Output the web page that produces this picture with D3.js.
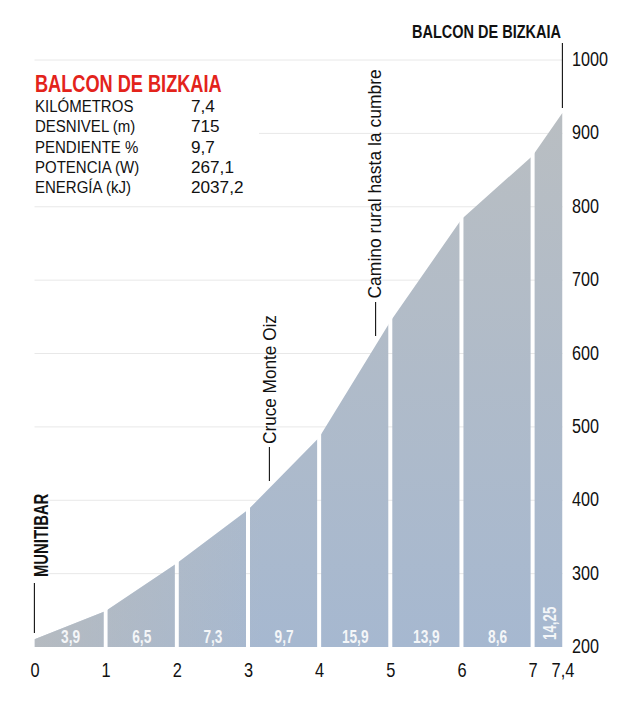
<!DOCTYPE html>
<html>
<head>
<meta charset="utf-8">
<script src="https://cdn.jsdelivr.net/npm/d3@7"></script>
<style>
  body { margin: 0; background: #fff; }
  text { font-family: "Liberation Sans", sans-serif; fill: #111; }
</style>
</head>
<body>
<div id="chart"></div>
<script>
// datos del perfil
const kms = [0, 1, 2, 3, 4, 5, 6, 7, 7.42]
const elevations = [210.5, 249, 314, 387, 485.5, 643.6, 783, 869.6, 928]
const gradients = ["3,9", "6,5", "7,3", "9,7", "15,9", "13,9", "8,6", "14,25"]
const xTicks = [0, 1, 2, 3, 4, 5, 6, 7, 7.42]
const xTickLabels = ["0", "1", "2", "3", "4", "5", "6", "7", "7,4"]
const yTicks = [200, 300, 400, 500, 600, 700, 800, 900, 1000]
const infoLabels = ["KILÓMETROS", "DESNIVEL (m)", "PENDIENTE %", "POTENCIA (W)", "ENERGÍA (kJ)"]
const infoValues = ["7,4", "715", "9,7", "267,1", "2037,2"]

const width = 627
const height = 701

const svg = d3.select("div#chart").append("svg").attr("width", width).attr("height", height)

const x = d3.scaleLinear().domain([0, 7.42]).range([34.5, 562.5])
const y = d3.scaleLinear().domain([200, 1000]).range([647, 60])

// la fuente original es condensada: se estrecha con scale
const place = (px, py, sx, rot = 0) => `translate(${px},${py}) rotate(${rot}) scale(${sx},1)`

const defs = svg.append("defs")
const vGrad = defs.append("linearGradient").attr("id", "vGrad")
    .attr("gradientUnits", "userSpaceOnUse")
    .attr("x1", 0).attr("y1", y(928)).attr("x2", 0).attr("y2", y(200))
vGrad.append("stop").attr("offset", 0).attr("stop-color", "#b9bec2")
vGrad.append("stop").attr("offset", 1).attr("stop-color", "#a6b8d0")

const hGrad = defs.append("linearGradient").attr("id", "hGrad")
    .attr("gradientUnits", "userSpaceOnUse")
    .attr("x1", x(0)).attr("y1", 0).attr("x2", x(3.2)).attr("y2", 0)
hGrad.append("stop").attr("offset", 0).attr("stop-color", "#bdbcb8").attr("stop-opacity", 0.65)
hGrad.append("stop").attr("offset", 1).attr("stop-color", "#bdbcb8").attr("stop-opacity", 0)

// huecos blancos entre kilómetros
defs.append("clipPath").attr("id", "segments")
    .selectAll("rect").data(kms.slice(0, -1)).join("rect")
    .attr("x", (d, i) => x(d) + (i === 0 ? 0 : 2))
    .attr("width", (d, i) => x(kms[i + 1]) - x(d) - (i === 0 ? 2 : i === kms.length - 2 ? 2 : 4))
    .attr("y", 0).attr("height", height)

// rejilla
svg.append("g").selectAll("line").data(yTicks.slice(1)).join("line")
    .attr("x1", d => d === 900 ? 259 : x(0)).attr("x2", x(7.42))
    .attr("y1", d => y(d)).attr("y2", d => y(d))
    .attr("stroke", "#e8e8e8").attr("stroke-width", 1)

// perfil
const area = d3.area().x((d, i) => x(kms[i])).y0(y(200)).y1(d => y(d))
const profile = svg.append("g").attr("clip-path", "url(#segments)")
profile.append("path").datum(elevations).attr("d", area).attr("fill", "url(#vGrad)")
profile.append("path").datum(elevations).attr("d", area).attr("fill", "url(#hGrad)")

// pendientes
svg.append("g").selectAll("text").data(gradients.slice(0, -1)).join("text")
    .attr("transform", (d, i) => place(x(kms[i] + 0.5) + 0.5, 643.3, 0.74))
    .attr("text-anchor", "middle")
    .style("fill", "#f4f6f8").style("font-weight", "bold").style("font-size", "18.5px")
    .text(d => d)
svg.append("text")
    .attr("transform", place(556, 640, 0.72, -90))
    .style("fill", "#f4f6f8").style("font-weight", "bold").style("font-size", "18.5px")
    .text(gradients[7])

// ejes
svg.append("g").selectAll("text").data(xTicks).join("text")
    .attr("transform", d => place(x(d) + 0.5, 676.7, 0.82))
    .attr("text-anchor", "middle")
    .style("font-size", "20px")
    .text((d, i) => xTickLabels[i])

svg.append("g").selectAll("text").data(yTicks).join("text")
    .attr("transform", d => place(572, y(d) + 6, 0.81))
    .style("font-size", "20px")
    .text(d => d)

// bloque de datos
svg.append("text").attr("transform", place(35, 92, 0.78))
    .style("fill", "#e3231b").style("font-weight", "bold").style("font-size", "23.3px")
    .text("BALCON DE BIZKAIA")

svg.append("g").selectAll("text").data(infoLabels).join("text")
    .attr("transform", (d, i) => place(35, 112 + i * 20.35, 0.91))
    .style("font-size", "16.5px")
    .text(d => d)
svg.append("g").selectAll("text").data(infoValues).join("text")
    .attr("transform", (d, i) => place(191, 112 + i * 20.35, 1.04))
    .style("font-size", "16.5px")
    .text(d => d)

// anotaciones
const leader = (px, y1, y2) => svg.append("line")
    .attr("x1", px).attr("x2", px).attr("y1", y1).attr("y2", y2)
    .attr("stroke", "#111").attr("stroke-width", 1.1)

leader(34.4, 583, 633)
svg.append("text").attr("transform", place(48, 577, 0.743, -90))
    .style("font-weight", "bold").style("font-size", "20px").text("MUNITIBAR")

leader(269.4, 447, 481)
svg.append("text").attr("transform", place(276, 444, 0.905, -90))
    .style("font-size", "19px").text("Cruce Monte Oiz")

leader(375.6, 302, 336)
svg.append("text").attr("transform", place(381, 298.5, 0.92, -90))
    .style("font-size", "19px").text("Camino rural hasta la cumbre")

leader(562.4, 43, 108)
svg.append("text").attr("transform", place(561, 37.7, 0.764)).attr("text-anchor", "end")
    .style("font-weight", "bold").style("font-size", "19px").text("BALCON DE BIZKAIA")
</script>
</body>
</html>
